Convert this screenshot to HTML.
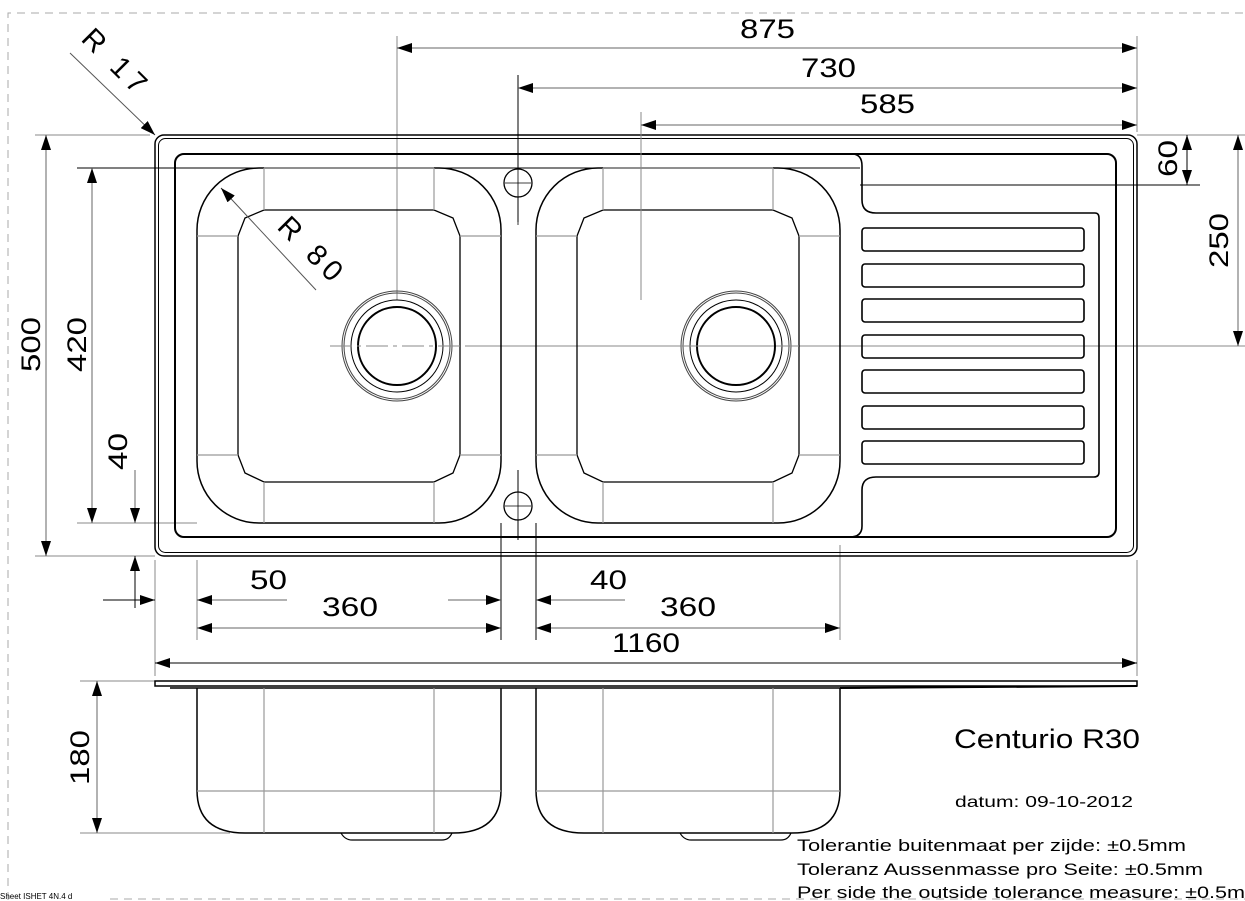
<!DOCTYPE html>
<html><head><meta charset="utf-8"><style>
html,body{margin:0;padding:0;background:#fff}
svg{display:block}
text{font-family:"Liberation Sans",sans-serif;fill:#000}
</style></head><body>
<svg width="1245" height="901" viewBox="0 0 1245 901" xmlns="http://www.w3.org/2000/svg">
<defs>
<marker id="a" markerUnits="userSpaceOnUse" markerWidth="16" markerHeight="10" refX="15" refY="5" orient="auto-start-reverse" viewBox="0 0 16 10"><path d="M0,0 L15,5 L0,10 z" fill="#000"/></marker>
<g id="bowl">
<rect x="197" y="168" width="304" height="355" rx="62" fill="none" stroke="#000" stroke-width="1.5"/>
<polygon points="264,210 434,210 453,218 460,236 460,455 453,473 434,482 264,482 245,473 238,455 238,236 245,218" fill="none" stroke="#000" stroke-width="1.3"/>
<g stroke="#999" stroke-width="1.2">
<line x1="264" y1="168" x2="264" y2="210"/><line x1="434" y1="168" x2="434" y2="210"/>
<line x1="264" y1="482" x2="264" y2="523"/><line x1="434" y1="482" x2="434" y2="523"/>
<line x1="197" y1="236" x2="238" y2="236"/><line x1="460" y1="236" x2="501" y2="236"/>
<line x1="197" y1="455" x2="238" y2="455"/><line x1="460" y1="455" x2="501" y2="455"/>
<line x1="264" y1="168" x2="434" y2="168"/>
</g>
<circle cx="397" cy="346" r="55" fill="none" stroke="#444" stroke-width="1"/>
<circle cx="397" cy="346" r="53" fill="none" stroke="#444" stroke-width="1"/>
<circle cx="397" cy="346" r="46" fill="none" stroke="#000" stroke-width="1"/>
<circle cx="397" cy="346" r="39" fill="none" stroke="#000" stroke-width="2"/>
<line x1="330" y1="346" x2="465" y2="346" stroke="#888" stroke-width="1" stroke-dasharray="22,5,4,5"/>
</g>
<g id="sbowl">
<path d="M197,688 L197,790 Q197,833 245,833 L453,833 Q501,833 501,790 L501,688" fill="none" stroke="#000" stroke-width="1.5"/>
<line x1="197" y1="791" x2="501" y2="791" stroke="#999" stroke-width="1.2"/>
<line x1="264" y1="688" x2="264" y2="833" stroke="#999" stroke-width="1.2"/>
<line x1="434" y1="688" x2="434" y2="833" stroke="#999" stroke-width="1.2"/>
<path d="M341,833 Q345,840 352,840 L442,840 Q449,840 452,833" fill="none" stroke="#000" stroke-width="1.2"/>
</g>
</defs>

<path d="M8,900 L8,13 L1245,13" fill="none" stroke="#aaa" stroke-width="1" stroke-dasharray="8,6"/>
<line x1="110" y1="899" x2="1245" y2="899" stroke="#aaa" stroke-dasharray="8,6"/>
<text x="0" y="899" font-size="8" fill="#777">Sheet ISHET 4N.4 d</text>

<g stroke="#888" stroke-width="1">
<line x1="397" y1="36" x2="397" y2="300"/>
<line x1="641" y1="112" x2="641" y2="300"/>
<line x1="1137" y1="36" x2="1137" y2="132"/>
<line x1="35" y1="135" x2="150" y2="135"/>
<line x1="1137" y1="135" x2="1245" y2="135"/>
<line x1="35" y1="556" x2="155" y2="556"/>
<line x1="77" y1="523" x2="197" y2="523"/>
<line x1="465" y1="346" x2="1245" y2="346"/>
<line x1="155" y1="560" x2="155" y2="676"/>
<line x1="197" y1="560" x2="197" y2="640"/>
<line x1="840" y1="545" x2="840" y2="640"/>
<line x1="1137" y1="560" x2="1137" y2="676"/>
<line x1="80" y1="681" x2="155" y2="681"/>
<line x1="80" y1="833" x2="230" y2="833"/>
</g>
<line x1="518" y1="75" x2="518" y2="222" stroke="#000" stroke-width="1"/>
<line x1="518" y1="470" x2="518" y2="540" stroke="#000" stroke-width="1"/>
<line x1="501" y1="523" x2="501" y2="640" stroke="#000" stroke-width="1"/>
<line x1="536" y1="523" x2="536" y2="640" stroke="#000" stroke-width="1"/>
<line x1="77" y1="168" x2="860" y2="168" stroke="#000" stroke-width="1"/>
<line x1="860" y1="185" x2="1200" y2="185" stroke="#000" stroke-width="1"/>

<rect x="155" y="135" width="982" height="421" rx="9" fill="none" stroke="#000" stroke-width="1.5"/>
<rect x="158.5" y="138.5" width="975" height="414" rx="7" fill="none" stroke="#000" stroke-width="1"/>
<rect x="175" y="154" width="941" height="383" rx="9" fill="none" stroke="#000" stroke-width="2"/>
<path d="M852,154 Q862,154 862,166 L862,200 Q862,213 876,213 L1095,213 Q1099,213 1099,218 L1099,472 Q1099,477 1094,477 L876,477 Q862,477 862,490 L862,526 Q862,537 850,537" fill="none" stroke="#000" stroke-width="1.6"/>
<g fill="none" stroke="#000" stroke-width="1.6">
<rect x="862" y="228" width="222" height="23" rx="3"/>
<rect x="862" y="264" width="222" height="23" rx="3"/>
<rect x="862" y="299" width="222" height="23" rx="3"/>
<rect x="862" y="335" width="222" height="23" rx="3"/>
<rect x="862" y="370" width="222" height="23" rx="3"/>
<rect x="862" y="406" width="222" height="23" rx="3"/>
<rect x="862" y="441" width="222" height="23" rx="3"/>
</g>
<use href="#bowl"/>
<use href="#bowl" x="339"/>
<line x1="641" y1="112" x2="641" y2="300" stroke="#888"/>
<circle cx="518" cy="183" r="14" fill="#fff" stroke="#000" stroke-width="1.3"/>
<circle cx="518" cy="506" r="14" fill="#fff" stroke="#000" stroke-width="1.3"/>
<g stroke="#000" stroke-width="0.8">
<line x1="518" y1="165" x2="518" y2="225"/><line x1="505" y1="183" x2="531" y2="183"/>
<line x1="518" y1="470" x2="518" y2="540"/><line x1="505" y1="506" x2="531" y2="506"/>
</g>

<rect x="155" y="681" width="982" height="5" fill="none" stroke="#000" stroke-width="1.5"/>
<line x1="170" y1="688" x2="860" y2="688" stroke="#000" stroke-width="1.5"/>
<path d="M840,688 L1137,686" stroke="#000" stroke-width="2"/>
<use href="#sbowl"/>
<use href="#sbowl" x="339"/>

<g stroke="#000" stroke-width="1" fill="none">
<line x1="397" y1="48" x2="1137" y2="48" marker-start="url(#a)" marker-end="url(#a)" stroke="#666"/>
<line x1="518" y1="88" x2="1137" y2="88" marker-start="url(#a)" marker-end="url(#a)" stroke="#666"/>
<line x1="641" y1="125" x2="1137" y2="125" marker-start="url(#a)" marker-end="url(#a)" stroke="#666"/>
<line x1="46" y1="135" x2="46" y2="556" marker-start="url(#a)" marker-end="url(#a)" stroke="#666"/>
<line x1="92" y1="168" x2="92" y2="523" marker-start="url(#a)" marker-end="url(#a)" stroke="#666"/>
<line x1="135" y1="470" x2="135" y2="523" marker-end="url(#a)" stroke="#666"/>
<line x1="135" y1="608" x2="135" y2="556" marker-end="url(#a)"/>
<line x1="103" y1="600" x2="155" y2="600" marker-end="url(#a)"/>
<line x1="287" y1="600" x2="197" y2="600" marker-end="url(#a)" stroke="#666"/>
<line x1="448" y1="600" x2="501" y2="600" marker-end="url(#a)" stroke="#666"/>
<line x1="625" y1="600" x2="536" y2="600" marker-end="url(#a)" stroke="#666"/>
<line x1="197" y1="628" x2="501" y2="628" marker-start="url(#a)" marker-end="url(#a)" stroke="#666"/>
<line x1="536" y1="628" x2="840" y2="628" marker-start="url(#a)" marker-end="url(#a)" stroke="#666"/>
<line x1="155" y1="663" x2="1137" y2="663" marker-start="url(#a)" marker-end="url(#a)"/>
<line x1="1187" y1="135" x2="1187" y2="185" marker-start="url(#a)" marker-end="url(#a)"/>
<line x1="1238" y1="135" x2="1238" y2="346" marker-start="url(#a)" marker-end="url(#a)" stroke="#666"/>
<line x1="97" y1="681" x2="97" y2="833" marker-start="url(#a)" marker-end="url(#a)" stroke="#666"/>
<line x1="70" y1="53" x2="155" y2="135" marker-end="url(#a)" stroke="#555"/>
<line x1="316" y1="290" x2="221" y2="188" marker-end="url(#a)" stroke="#555"/>
</g>

<g font-size="27">
<text x="740" y="38" textLength="55" lengthAdjust="spacingAndGlyphs">875</text>
<text x="801" y="77" textLength="55" lengthAdjust="spacingAndGlyphs">730</text>
<text x="860" y="113" textLength="55" lengthAdjust="spacingAndGlyphs">585</text>
<text x="250" y="589" textLength="37" lengthAdjust="spacingAndGlyphs">50</text>
<text x="322" y="616" textLength="56" lengthAdjust="spacingAndGlyphs">360</text>
<text x="590" y="589" textLength="37" lengthAdjust="spacingAndGlyphs">40</text>
<text x="660" y="616" textLength="56" lengthAdjust="spacingAndGlyphs">360</text>
<text x="612" y="652" textLength="68" lengthAdjust="spacingAndGlyphs">1160</text>
<text transform="translate(40,372) rotate(-90)" textLength="55" lengthAdjust="spacingAndGlyphs">500</text>
<text transform="translate(86,372) rotate(-90)" textLength="55" lengthAdjust="spacingAndGlyphs">420</text>
<text transform="translate(127,470) rotate(-90)" textLength="37" lengthAdjust="spacingAndGlyphs">40</text>
<text transform="translate(1177,177) rotate(-90)" textLength="37" lengthAdjust="spacingAndGlyphs">60</text>
<text transform="translate(1228,268) rotate(-90)" textLength="55" lengthAdjust="spacingAndGlyphs">250</text>
<text transform="translate(89,785) rotate(-90)" textLength="55" lengthAdjust="spacingAndGlyphs">180</text>
<text transform="translate(80,40) rotate(45)" font-size="29" textLength="78" lengthAdjust="spacing">R 17</text>
<text transform="translate(276,228) rotate(45)" font-size="29" textLength="78" lengthAdjust="spacing">R 80</text>
<text x="954" y="748" textLength="186" lengthAdjust="spacingAndGlyphs">Centurio R30</text>
</g>
<text x="955" y="807" font-size="16" textLength="178" lengthAdjust="spacingAndGlyphs">datum: 09-10-2012</text>
<g font-size="17">
<text x="797" y="851" textLength="389" lengthAdjust="spacingAndGlyphs">Tolerantie buitenmaat per zijde: ±0.5mm</text>
<text x="797" y="875" textLength="406" lengthAdjust="spacingAndGlyphs">Toleranz Aussenmasse pro Seite: ±0.5mm</text>
<text x="797" y="898" textLength="466" lengthAdjust="spacingAndGlyphs">Per side the outside tolerance measure: ±0.5mm</text>
</g>
</svg>
</body></html>
